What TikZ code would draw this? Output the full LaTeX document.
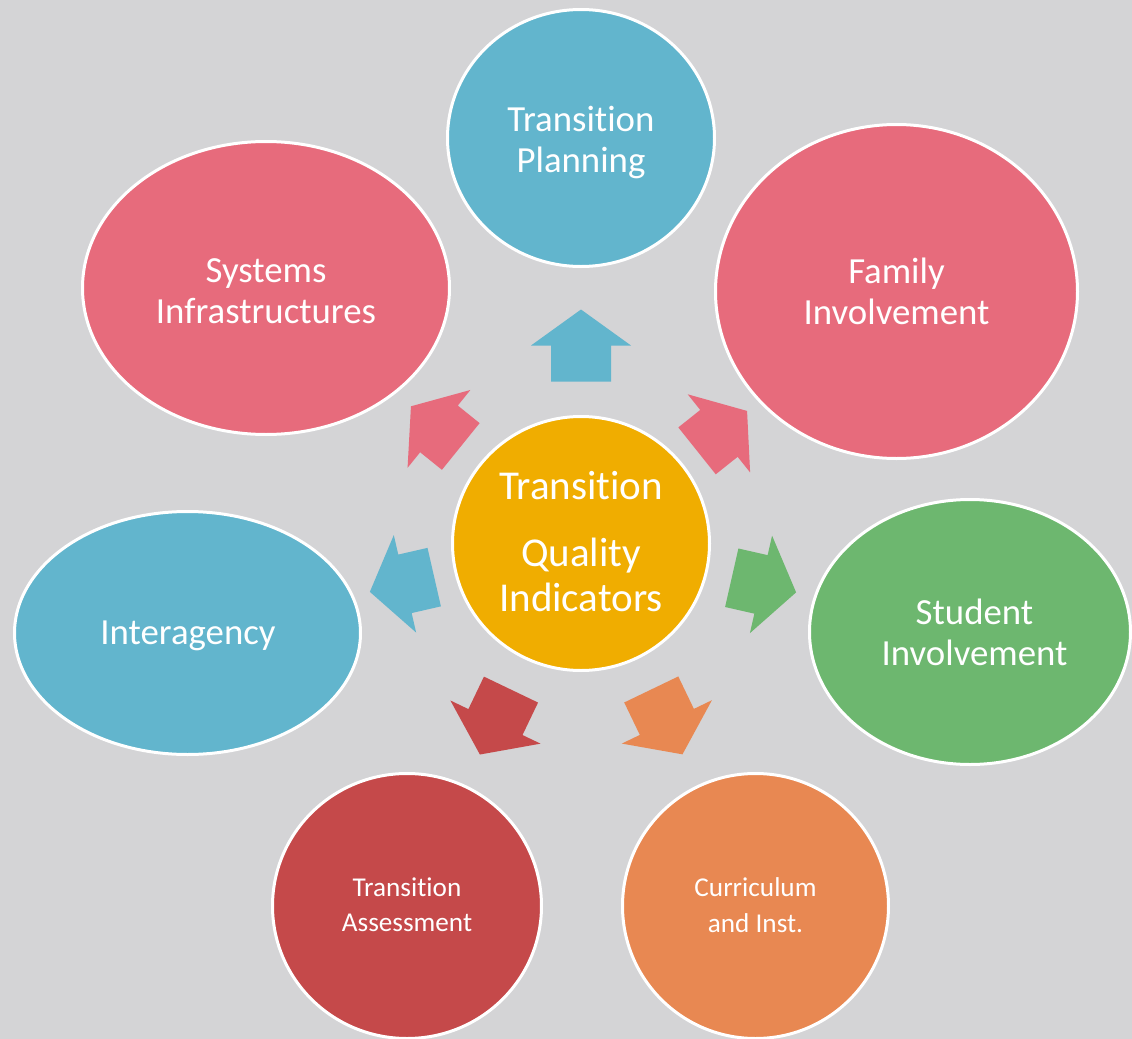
\documentclass[tikz,border=0pt]{standalone}
\usepackage{fontspec}
\setmainfont{Carlito}[Ligatures=NoCommon]
\usetikzlibrary{shapes.geometric}
\definecolor{bg}{HTML}{D4D4D6}
\definecolor{cblue}{HTML}{62B5CD}
\definecolor{cpink}{HTML}{E76B7C}
\definecolor{cgreen}{HTML}{6DB76F}
\definecolor{cred}{HTML}{C5494A}
\definecolor{corange}{HTML}{E88852}
\definecolor{cgold}{HTML}{F0AD00}
\newcommand\blockarr[4]{%
  \fill[#4, shift={(qi.center)}, rotate=#1]
    ({#2-#3},-30) -- (#2,-30) -- (#2,-50) -- ({#2+36},0) -- (#2,50) -- (#2,30) -- ({#2-#3},30) -- cycle;}
\begin{document}
\begin{tikzpicture}[x=0.5pt,y=-0.5pt,
  bub/.style={ellipse, draw=white, line width=1.5pt, inner sep=0pt},
  lbl/.style={text=white, align=center, inner sep=0pt},
  big/.style={lbl, font=\fontsize{18.4}{20.5}\selectfont},
  small/.style={lbl, font=\fontsize{13.6}{17.7}\selectfont}]
\fill[bg] (0,0) rectangle (1132,1039);
\useasboundingbox (0,0) rectangle (1132,1039);
\node[bub, fill=cblue, minimum width=133.5pt, minimum height=128.5pt] (tp) at (581,138) {};
\node[bub, fill=cpink, minimum width=181pt, minimum height=167pt] (fi) at (896.5,291.5) {};
\node[bub, fill=cpink, minimum width=183.5pt, minimum height=146.5pt] (si) at (266,288) {};
\node[bub, fill=cblue, minimum width=173pt, minimum height=121.5pt] (ia) at (187.5,633) {};
\node[bub, fill=cgreen, minimum width=160.5pt, minimum height=132.5pt] (sv) at (970,632) {};
\node[bub, fill=cred, minimum width=134.5pt, minimum height=132.5pt] (ta) at (407,906) {};
\node[bub, fill=corange, minimum width=133pt, minimum height=132.5pt] (ci) at (755.5,906) {};
\node[bub, fill=cgold, minimum width=128.5pt, minimum height=127pt] (qi) at (581,543.5) {};
\node[big] (tpt) at (581,142.5) {Transition\\Planning};
\node[big] (fit) at (896.5,291) {Family\\Involvement};
\node[big] (sit) at (266,291) {Systems\\Infrastructures};
\node[big] (iat) at (188,636) {Interagency};
\node[big] (svt) at (974.5,632) {Student\\Involvement};
\node[small] (tat) at (407,905) {Transition\\Assessment};
\node[small] (cit) at (755.5,905) {Curriculum\\and Inst.};
\node[lbl, font=\fontsize{20.5}{22.5}\selectfont] (qit) at (581,541.5) {Transition\\[10.8pt]Quality\\Indicators};
\blockarr{90}{198}{36}{cblue}
\blockarr{141.1}{182.5}{28}{cpink}
\blockarr{38.6}{176.5}{28}{cpink}
\blockarr{-12.8}{184.6}{30}{cgreen}
\blockarr{192.9}{180.6}{30}{cblue}
\blockarr{244.4}{198}{36}{cred}
\blockarr{295.7}{198}{36}{corange}
\end{tikzpicture}
\end{document}
